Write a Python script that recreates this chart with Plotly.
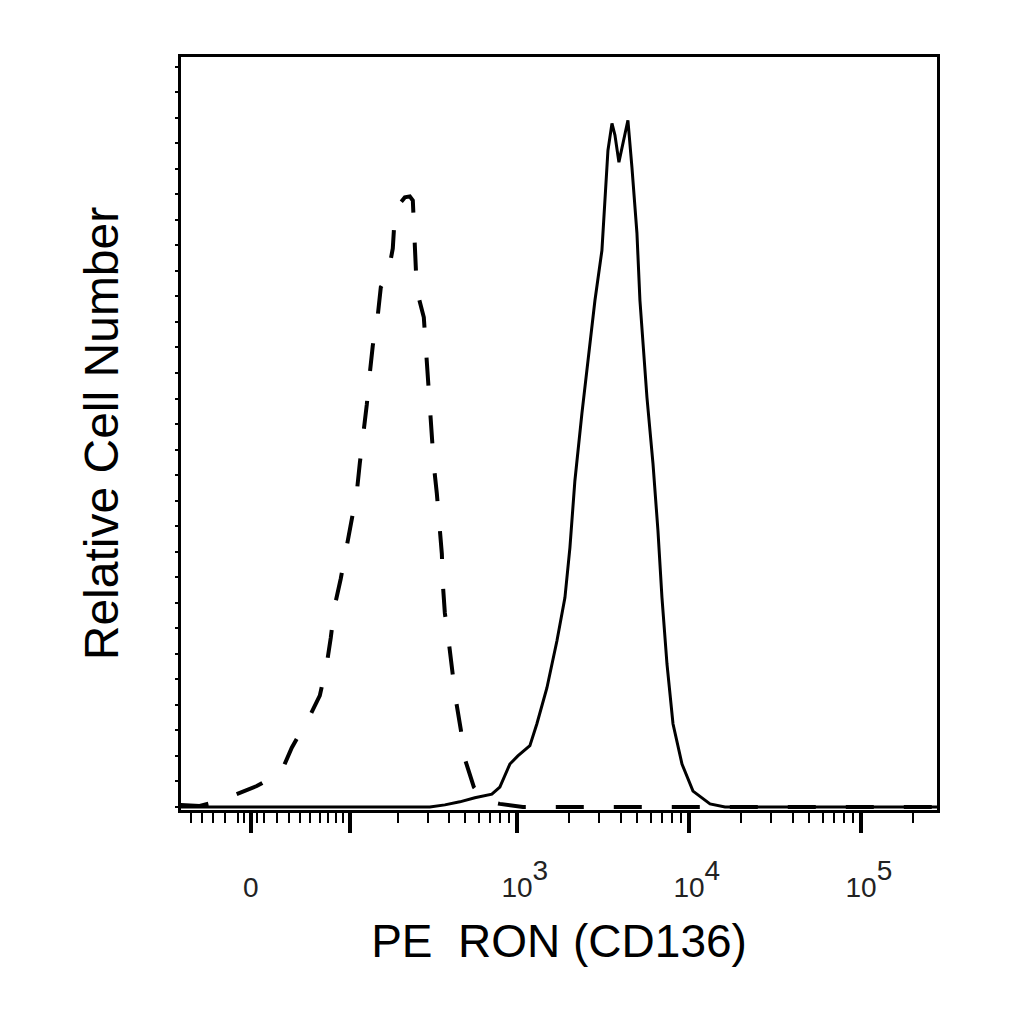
import numpy as np
import plotly.graph_objects as go

# biexponential-ish display: asinh with this width parameter
WIDTH_C = 56.8

# PE intensity (x) and cell counts (y)
iso_pe = [-61.4, -41.9, -24.3, -14.6, -4.6, 4.6, 14.6, 24.3, 32.8, 40.0, 49.7, 60.3,
          68.3, 73.1, 78.2, 86.2, 93.3, 100.9, 110.5, 115.6, 122.6, 128.2, 133.9,
          139.9, 150.3, 156.9, 173.2, 185.8, 191.1, 204.9, 219.6, 235.3, 245.2,
          248.6, 255.5, 259.0, 285.0, 292.9, 301.0, 309.3, 317.8, 326.6, 340.2,
          349.6, 364.1, 369.0, 379.2, 400.3, 422.5, 439.9, 470.6, 496.7, 560.7,
          650.1, 795.0, 1082, 2000, 5000, 20000, 100000, 276000]
iso_count = [0.4, 0.2, 1.2, 2.2, 3.1, 4.1, 5.5, 7.1, 11.6, 14.3, 17.8, 21.8,
             28.0, 33.1, 39.4, 44.7, 50.2, 55.7, 61.6, 67.3, 73.3, 78.8, 84.9,
             90.4, 96.3, 101.8, 104.1, 109.4, 115.9, 118.2, 119.4, 119.6, 118.8,
             112.9, 107.1, 101.2, 95.9, 89.8, 84.1, 78.2, 72.7, 66.9, 61.4,
             55.5, 49.6, 43.7, 38.0, 32.2, 26.3, 21.0, 15.1, 9.4, 3.9,
             1.2, 0.6, 0, 0, 0, 0, 0, 0]

ron_pe = [-61.4, 0, 100, 309.3, 379.2, 464.3, 568.3, 714.1, 795.0, 850.4, 909.3,
          1012, 1189, 1306, 1493, 1707, 1901, 2032, 2172, 2386, 2585, 2840,
          3118, 3246, 3380, 3567, 3712, 3915, 4186, 4416, 4660, 4982, 5186,
          5399, 5697, 6174, 6600, 6964, 7446, 8071, 9103, 10546, 13242, 16188,
          50000, 276000]
ron_count = [0, 0, 0, 0, 0.4, 1.0, 1.8, 2.5, 3.9, 6.1, 8.4,
             10.0, 12.0, 16.3, 23.3, 32.5, 41.0, 50.8, 63.9, 77.1, 87.5, 99.2,
             109.0, 118.8, 128.6, 133.9, 131.6, 126.3, 130.6, 134.5, 125.3, 112.4, 99.2,
             91.4, 80.2, 67.3, 54.1, 41.0, 28.0, 16.3, 8.4, 3.1, 0.6, 0,
             0, 0]

major_vals = [0, 100, 1000, 10000, 100000]
major_exp = [None, None, 3, 4, 5]
minor_vals = ([-50, -40, -30, -20, -10, -5, 5, 10, 20, 30, 40, 50, 60, 70, 80, 90]
              + [k * 100 for k in range(2, 10)]
              + [k * 1000 for k in range(2, 10)]
              + [k * 10000 for k in range(2, 10)]
              + [200000])
x_limits = [-61, 276000]
y_limits = [-0.6, 146.9]


def biex(v):
    return np.arcsinh(np.asarray(v, dtype=float) / WIDTH_C)


def tick_label(val, exp):
    if val == 0:
        return "0"
    if exp is None:
        return ""
    # exponent about as big as the base, as the cytometer software draws it;
    # leading nbsp keeps "10" centred under the tick
    return "\u00a0\u00a010<span style='font-size:40px'><sup>%d</sup></span>" % exp


fig = go.Figure()
fig.add_trace(go.Scatter(x=biex(iso_pe), y=iso_count, mode="lines",
                         line=dict(color="black", width=4, dash="28px,30px"),
                         name="isotype"))
fig.add_trace(go.Scatter(x=biex(ron_pe), y=ron_count, mode="lines",
                         line=dict(color="black", width=3),
                         name="RON"))

font_main = "Liberation Sans, Arial, sans-serif"

fig.update_layout(
    width=1024, height=1024,
    margin=dict(l=173, r=95, t=49, b=222),
    paper_bgcolor="white", plot_bgcolor="white",
    showlegend=False,
    font=dict(family=font_main, color="black"),
)
fig.update_xaxes(
    range=list(biex(x_limits)),
    showgrid=False, zeroline=False,
    showline=True, linewidth=3, linecolor="black", mirror=True,
    tickmode="array", tickvals=list(biex(major_vals)),
    ticktext=[tick_label(v, e) for v, e in zip(major_vals, major_exp)],
    ticks="outside", ticklen=20, tickwidth=4, tickcolor="black",
    tickfont=dict(size=28, color="#222"),
    ticklabelstandoff=30,
    minor=dict(tickmode="array", tickvals=list(biex(minor_vals)),
               ticks="outside", ticklen=10, tickwidth=2, tickcolor="black"),
    title=dict(text="PE\u00a0 RON (CD136)", font=dict(size=46), standoff=24),
)
fig.update_yaxes(
    range=y_limits,
    showgrid=False, zeroline=False,
    showline=True, linewidth=3, linecolor="black", mirror=True,
    ticks="outside", ticklen=3, tickwidth=2, tickcolor="black",
    tick0=0, dtick=5, showticklabels=False,
    title=dict(text="\u00a0\u00a0Relative Cell Number", font=dict(size=48), standoff=42),
)

fig.write_html("out.html")
